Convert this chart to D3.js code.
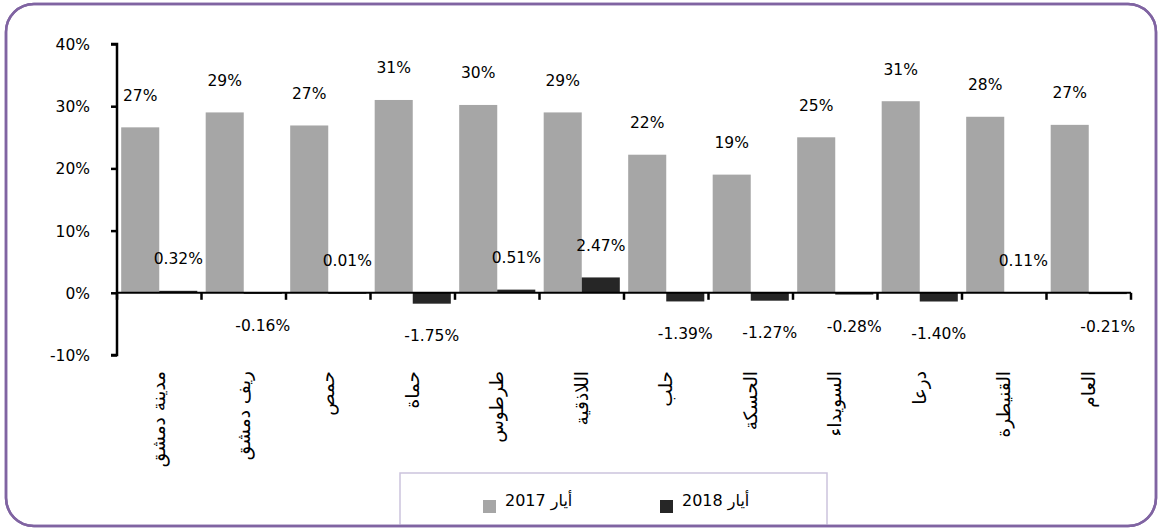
<!DOCTYPE html>
<html>
<head>
<meta charset="utf-8">
<script src="https://cdn.jsdelivr.net/npm/d3@7"></script>
<style>
html,body{margin:0;padding:0;background:#fff;}
svg text{font-family:"DejaVu Sans",sans-serif;}
</style>
</head>
<body>
<svg id="chart" width="1158" height="530"></svg>
<script>
const categories = ["مدينة دمشق","ريف دمشق","حمص","حماة","طرطوس","اللاذقية","حلب","الحسكة","السويداء","درعا","القنيطرة","العام"];
const values2017 = [26.6, 29.0, 26.9, 31.0, 30.2, 29.0, 22.2, 19.0, 25.0, 30.8, 28.3, 27.0];
const labels2017 = ["27%","29%","27%","31%","30%","29%","22%","19%","25%","31%","28%","27%"];
const values2018 = [0.32, -0.16, 0.01, -1.75, 0.51, 2.47, -1.39, -1.27, -0.28, -1.40, 0.11, -0.21];
const yTicks = [-10, 0, 10, 20, 30, 40];
const seriesNames = ["أيار 2017", "أيار 2018"];
const colors = ["#a6a6a6", "#262626"];

const svg = d3.select("#chart");
// frame
svg.append("rect").attr("x",6).attr("y",4).attr("width",1150).attr("height",522)
  .attr("rx",28).attr("ry",28).attr("fill","#fff").attr("stroke","#8064a2").attr("stroke-width",2.5);

const x0 = 117, x1 = 1131;
const y = d3.scaleLinear().domain([-10, 40]).range([355, 44]);
const x = d3.scaleBand().domain(categories).range([x0, x1]).paddingInner(0).paddingOuter(0);
const inner = d3.scaleBand().domain([0,1]).range([0, x.bandwidth()]).paddingOuter(0.11).paddingInner(0);

const numFont = 15.5;
const g = svg.append("g");

// bars 2017
g.selectAll(".b17").data(categories).join("rect")
  .attr("x", (d,i)=> x(d)+inner(0)).attr("width", inner.bandwidth())
  .attr("y", (d,i)=> y(Math.max(0, values2017[i])))
  .attr("height", (d,i)=> Math.abs(y(values2017[i]) - y(0)))
  .attr("fill", colors[0]);
// bars 2018
g.selectAll(".b18").data(categories).join("rect")
  .attr("x", (d,i)=> x(d)+inner(1)).attr("width", inner.bandwidth())
  .attr("y", (d,i)=> y(Math.max(0, values2018[i])))
  .attr("height", (d,i)=> Math.max(1, Math.abs(y(values2018[i]) - y(0))))
  .attr("fill", colors[1]);

// y axis
const yAxis = d3.axisLeft(y).tickValues(yTicks).tickSize(6).tickFormat(d=> d + "%");
const ya = svg.append("g").attr("transform",`translate(${x0},0)`).call(yAxis);
ya.select(".domain").attr("stroke","#000").attr("stroke-width",2.5).attr("d", `M-6,${y(40)}H0V${y(-10)}H-6`);
ya.selectAll(".tick line").attr("stroke","#000").attr("stroke-width",2.5);
ya.selectAll(".tick text").attr("font-size",numFont).attr("fill","#000").attr("x",-27).attr("dy","0.35em")
  .style("font-family",'"DejaVu Sans",sans-serif');

// x axis at zero
const xa = svg.append("g").attr("transform",`translate(0,${y(0)})`);
xa.append("line").attr("x1",x0).attr("x2",x1).attr("stroke","#000").attr("stroke-width",2);
const bounds = d3.range(categories.length+1).map(i=> x0 + i*x.step());
xa.selectAll(".xt").data(bounds).join("line")
  .attr("x1",d=>d).attr("x2",d=>d).attr("y1",0).attr("y2",7).attr("stroke","#000").attr("stroke-width",2.5);

// category labels
svg.selectAll(".cat").data(categories).join("text")
  .attr("transform", d=> `translate(${x(d)+x.bandwidth()/2 + 6},371) rotate(-90)`)
  .attr("text-anchor","end").attr("font-size",18.5).attr("fill","#000")
  .text(d=>d);

// value labels 2017
svg.selectAll(".l17").data(categories).join("text")
  .attr("x",(d,i)=> x(d)+inner(0)+inner.bandwidth()/2)
  .attr("y",(d,i)=> y(values2017[i]) - 32)
  .attr("dy","0.35em").attr("text-anchor","middle").attr("font-size",numFont).attr("fill","#000")
  .text((d,i)=> labels2017[i]);
// value labels 2018
svg.selectAll(".l18").data(categories).join("text")
  .attr("x",(d,i)=> x(d)+inner(1)+inner.bandwidth()/2)
  .attr("y",(d,i)=> values2018[i] >= 0 ? y(values2018[i]) - 32 : y(values2018[i]) + 32)
  .attr("dy","0.35em").attr("text-anchor","middle").attr("font-size",numFont).attr("fill","#000")
  .text((d,i)=> values2018[i].toFixed(2) + "%");

// legend
const lg = svg.append("g");
lg.append("rect").attr("x",400).attr("y",473).attr("width",427).attr("height",52)
  .attr("fill","#fff").attr("stroke","#ccc3dd").attr("stroke-width",1.5);
const legX = [483, 660];
seriesNames.forEach((s,i)=>{
  lg.append("rect").attr("x",legX[i]).attr("y",500).attr("width",13).attr("height",13).attr("fill",colors[i]);
  lg.append("text").attr("x",legX[i]+22).attr("y",500).attr("dy","0.35em").attr("font-size",16).attr("fill","#000")
    .attr("text-anchor","start").text(s);
});
// redraw frame bottom edge over legend
svg.append("rect").attr("x",6).attr("y",4).attr("width",1150).attr("height",522)
  .attr("rx",28).attr("ry",28).attr("fill","none").attr("stroke","#8064a2").attr("stroke-width",2.5);
</script>
</body>
</html>
